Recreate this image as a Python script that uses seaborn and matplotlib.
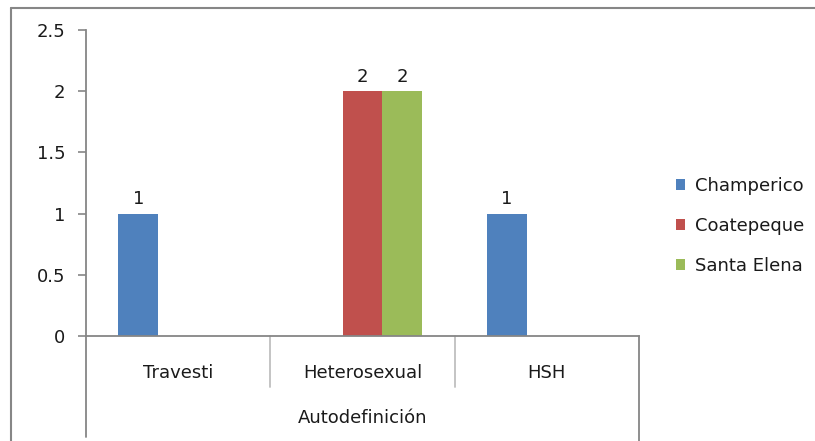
import numpy as np
import pandas as pd
import seaborn as sns
import matplotlib.pyplot as plt
from matplotlib.lines import Line2D
from matplotlib.patches import Patch
import matplotlib.transforms as mtransforms

# data
categories = ["Travesti", "Heterosexual", "HSH"]
series = ["Champerico", "Coatepeque", "Santa Elena"]
champerico = [1, None, 1]
coatepeque = [None, 2, None]
santa_elena = [None, 2, None]
colors = ["#4F81BD", "#C0504D", "#9BBB59"]
axis_title = "Autodefinición"

rows = []
for name, vals in zip(series, [champerico, coatepeque, santa_elena]):
    for cat, v in zip(categories, vals):
        rows.append({"cat": cat, "serie": name, "valor": v})
df = pd.DataFrame(rows).dropna()

sns.set_style("white")
plt.rcParams["font.family"] = ["DejaVu Sans"]
fs = 13

W, H = 815, 441
fig = plt.figure(figsize=(W / 100, H / 100), dpi=100)
# plot area in pixels: x 86..639, y 30..336
ax = fig.add_axes([86 / W, 1 - 336 / H, (639 - 86) / W, (336 - 30) / H])

sns.barplot(data=df, x="cat", y="valor", hue="serie", order=categories,
            hue_order=series, palette=colors, width=0.65, saturation=1,
            linewidth=0, ax=ax, legend=False)

for cont in ax.containers:
    ax.bar_label(cont, fmt="%g", padding=4, fontsize=fs, color="#1a1a1a")

ax.set_xlim(-0.5, 2.5)
ax.set_ylim(0, 2.5)
ax.set_yticks(np.arange(0, 2.51, 0.5))
ax.set_yticklabels(["0", "0.5", "1", "1.5", "2", "2.5"])
ax.set_xlabel("")
ax.set_ylabel("")

gray = "#868686"
light = "#BFBFBF"
for s in ["top", "right"]:
    ax.spines[s].set_visible(False)
for s in ["left", "bottom"]:
    ax.spines[s].set_color(gray)
    ax.spines[s].set_linewidth(1.3)

ax.tick_params(axis="y", direction="out", length=6, width=1.2, color=gray,
               pad=9, labelsize=fs, labelcolor="#1a1a1a", left=True)
ax.tick_params(axis="x", length=0, pad=20, labelsize=fs, labelcolor="#1a1a1a")

# multi-level category axis lines below the plot
ph = 336 - 30
trans = mtransforms.blended_transform_factory(ax.transData, ax.transAxes)
ax.plot([-0.5, -0.5], [0, -101 / ph], color=gray, lw=1.3, transform=trans, clip_on=False)
ax.plot([2.5, 2.5], [0, -106 / ph], color=gray, lw=1.3, transform=trans, clip_on=False)
for xb in [0.5, 1.5]:
    ax.plot([xb, xb], [0, -51 / ph], color=light, lw=1.3, transform=trans, clip_on=False)
ax.text(1, -82 / ph, axis_title, transform=trans, ha="center", va="center",
        fontsize=fs, color="#1a1a1a")

# chart area border (left and top visible)
fig.add_artist(Line2D([11 / W, 11 / W], [0, 1 - 8 / H], color=gray, lw=1.5))
fig.add_artist(Line2D([11 / W, 1], [1 - 8 / H, 1 - 8 / H], color=gray, lw=1.5))

handles = [Patch(facecolor=c, edgecolor="none", label=s) for c, s in zip(colors, series)]
fig.legend(handles=handles, loc="center left", bbox_to_anchor=(676 / W, 1 - 226 / H),
           frameon=False, fontsize=fs, handlelength=0.5, handleheight=0.5,
           handletextpad=0.55, labelspacing=1.22, borderpad=0, borderaxespad=0,
           labelcolor="#1a1a1a")

fig.savefig("out.png", dpi=100)
